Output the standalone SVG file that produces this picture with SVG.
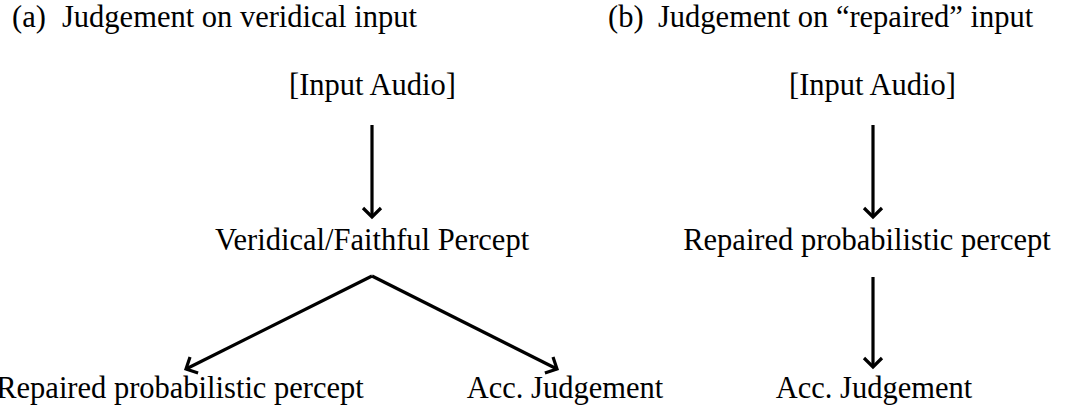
<svg xmlns="http://www.w3.org/2000/svg" width="1073" height="409" viewBox="0 0 1073 409">
<style>
text{font-size:30.5px;fill:#000}
.n text{text-anchor:middle}
.c line{stroke:#000;stroke-width:3.2;fill:none}
</style>
<defs>
<marker id="ah" markerUnits="userSpaceOnUse" markerWidth="24" markerHeight="24" viewBox="-12 -12 24 24" refX="0" refY="0" orient="auto">
<path d="M-9,-9 L0,0 L-9,9" fill="none" stroke="#000" stroke-width="3.2"/>
</marker>
</defs>
<rect width="1073" height="409" fill="#fff"/>
<g font-family="Liberation Serif, Times New Roman, serif">
<g id="title-a"><text x="12" y="27">(a)</text><text x="62" y="27">Judgement on veridical input</text></g>
<g id="title-b"><text x="608" y="27">(b)</text><text x="658" y="27">Judgement on “repaired” input</text></g>
<g class="n">
<g id="a-input"><text x="372.5" y="95">[Input Audio]</text></g>
<g id="a-veridical"><text x="372" y="250">Veridical/Faithful Percept</text></g>
<g id="a-repaired"><text x="180" y="398">Repaired probabilistic percept</text></g>
<g id="a-judgement"><text x="565" y="398">Acc. Judgement</text></g>
<g id="b-input"><text x="872.5" y="95">[Input Audio]</text></g>
<g id="b-repaired"><text x="867" y="250">Repaired probabilistic percept</text></g>
<g id="b-judgement"><text x="874" y="398">Acc. Judgement</text></g>
</g>
</g>
<g id="connectors" class="c">
<line x1="372" y1="125" x2="372" y2="217" marker-end="url(#ah)"/>
<line x1="372" y1="276" x2="186" y2="369" marker-end="url(#ah)"/>
<line x1="372" y1="276" x2="557" y2="369" marker-end="url(#ah)"/>
<line x1="873" y1="125" x2="873" y2="217" marker-end="url(#ah)"/>
<line x1="873" y1="277" x2="873" y2="367" marker-end="url(#ah)"/>
</g>
</svg>
